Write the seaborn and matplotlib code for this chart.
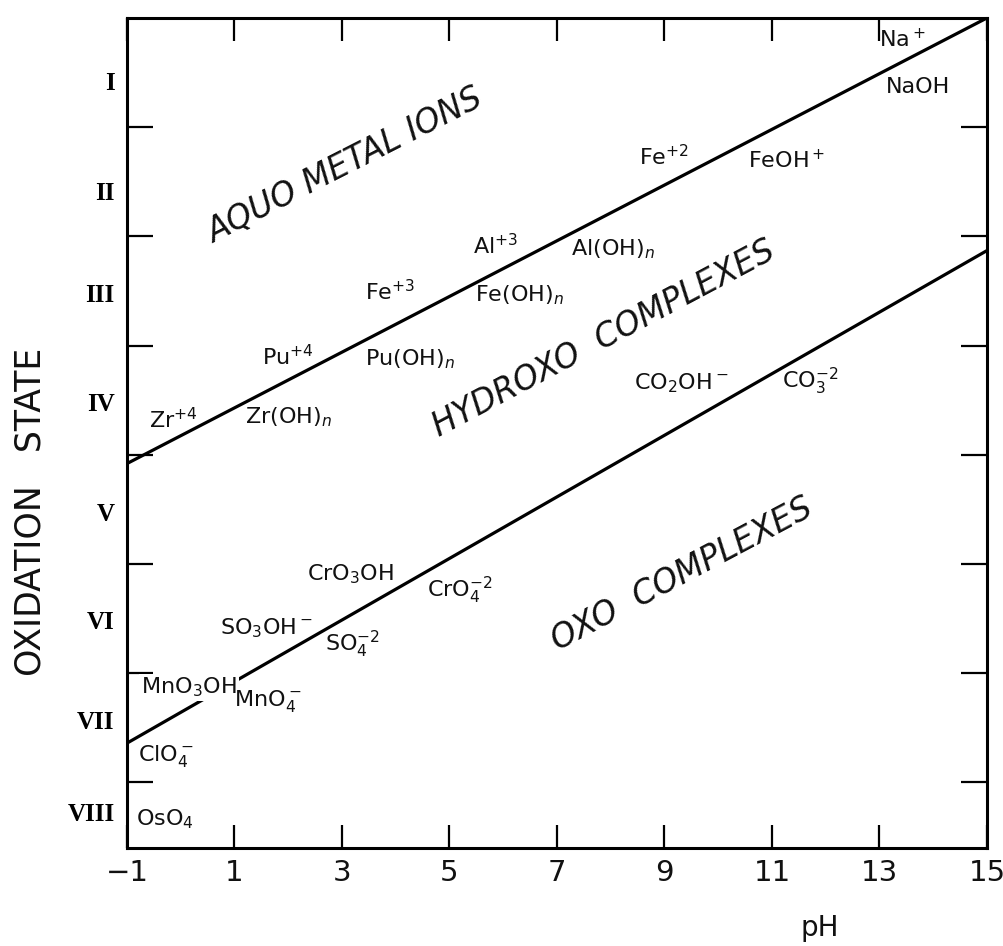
import numpy as np
import pandas as pd
import matplotlib
matplotlib.use("Agg")
import matplotlib.pyplot as plt
from matplotlib.ticker import FixedLocator
import seaborn as sns

# pH range covered by the two boundary lines
ph_limits = [-1, 15]
# oxidation state of each boundary at pH -1 and pH 15
aquo_hydroxo_boundary = [4.58, 0.50]
hydroxo_oxo_boundary = [7.14, 2.63]

# species names placed on the diagram (pH, oxidation state)
species = ["Zr$^{+4}$", "Zr(OH)$_n$", "Pu$^{+4}$", "Pu(OH)$_n$", "Fe$^{+3}$",
           "Al$^{+3}$", "Fe(OH)$_n$", "Al(OH)$_n$", "Fe$^{+2}$", "FeOH$^+$",
           "Na$^+$", "NaOH", "CO$_2$OH$^-$", "CO$_3^{-2}$", "CrO$_3$OH",
           "CrO$_4^{-2}$", "SO$_3$OH$^-$", "SO$_4^{-2}$", "MnO$_3$OH",
           "MnO$_4^-$", "ClO$_4^-$", "OsO$_4$"]
species_ph = [-0.13, 2.01, 2.00, 4.27, 3.89, 5.85, 6.31, 8.04, 8.99, 11.28,
              13.42, 13.72, 9.31, 11.71, 3.15, 5.20, 1.59, 3.19, 0.15, 1.62,
              -0.27, -0.29]
species_state = [4.18, 4.16, 3.60, 3.62, 3.01, 2.58, 3.04, 2.62, 1.77, 1.80,
                 0.70, 1.13, 3.84, 3.83, 5.59, 5.74, 6.09, 6.24, 6.63, 6.75,
                 7.26, 7.84]

# region names
regions = ["AQUO METAL IONS", "HYDROXO  COMPLEXES", "OXO  COMPLEXES"]
region_ph = [3.06, 7.87, 9.33]
region_state = [1.85, 3.44, 5.59]
region_angle = [27, 28, 28]

# axis ticks
ph_ticks = [-1, 1, 3, 5, 7, 9, 11, 13, 15]
roman_labels = ["I", "II", "III", "IV", "V", "VI", "VII", "VIII"]
roman_pos = [1.08, 2.08, 3.02, 4.02, 5.02, 6.01, 6.93, 7.77]
state_dividers = [1.5, 2.5, 3.5, 4.5, 5.5, 6.5, 7.5]

boundaries = pd.DataFrame({
    "pH": ph_limits * 2,
    "state": aquo_hydroxo_boundary + hydroxo_oxo_boundary,
    "boundary": ["aquo/hydroxo"] * 2 + ["hydroxo/oxo"] * 2,
})

sns.set_style("ticks")
plt.rcParams["font.family"] = ["DejaVu Sans"]
plt.rcParams["mathtext.fontset"] = "dejavusans"

fig = plt.figure(figsize=(10.04, 9.46), dpi=100)
ax = fig.add_axes([0.1265, 0.1036, 0.8565, 0.8774])

sns.lineplot(data=boundaries, x="pH", y="state", units="boundary",
             estimator=None, color="black", linewidth=2.3, ax=ax,
             legend=False, zorder=2)

ax.set_xlim(-1, 15)
ax.set_ylim(8.1, 0.5)

for name, x, y in zip(species, species_ph, species_state):
    kw = {}
    if name == "MnO$_3$OH":
        kw["bbox"] = dict(facecolor="white", edgecolor="none", pad=1.5)
    ax.text(x, y, name, ha="center", va="center", fontsize=16,
            color="#111111", zorder=3, **kw)

for name, x, y, ang in zip(regions, region_ph, region_state, region_angle):
    ax.text(x, y, name, ha="center", va="center", rotation=ang,
            rotation_mode="anchor", fontsize=23.5, style="italic",
            color="#111111", zorder=3)

ax.set_xticks(ph_ticks)
ax.set_yticks(roman_pos)
ax.set_yticklabels(roman_labels)
ax.yaxis.set_minor_locator(FixedLocator(state_dividers))

ax.tick_params(axis="x", which="major", direction="in", length=16.5,
               width=1.6, top=True, bottom=True, labelsize=21, pad=8,
               color="black", labelcolor="#111111")
ax.tick_params(axis="y", which="major", length=0, pad=9, labelsize=18,
               labelcolor="black")
ax.tick_params(axis="y", which="minor", direction="in", length=19,
               width=1.6, left=True, right=True, color="black")
for lbl in ax.get_yticklabels():
    lbl.set_fontfamily("Liberation Serif")
    lbl.set_fontweight("bold")

for sp in ax.spines.values():
    sp.set_linewidth(2.2)
    sp.set_color("black")

ax.set_xlabel("pH", fontsize=20, color="#111111")
ax.xaxis.set_label_coords(0.806, -0.080)
ax.set_ylabel("OXIDATION   STATE", fontsize=25, color="#111111")
ax.yaxis.set_label_coords(-0.093, 0.405)

fig.savefig("out.png", dpi=100, facecolor="white")
